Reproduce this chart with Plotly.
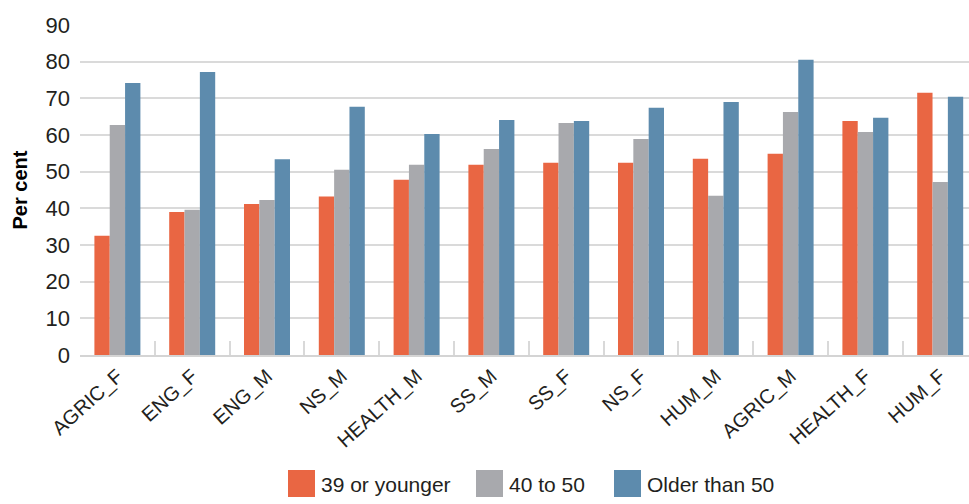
import plotly.graph_objects as go

# Categories (field of study and sex) and share per age group, in per cent
categories = ["AGRIC_F", "ENG_F", "ENG_M", "NS_M", "HEALTH_M", "SS_M",
              "SS_F", "NS_F", "HUM_M", "AGRIC_M", "HEALTH_F", "HUM_F"]
age_39_or_younger = [32.5, 39.0, 41.2, 43.2, 47.8, 51.9, 52.4, 52.4, 53.5, 54.9, 63.8, 71.5]
age_40_to_50 = [62.7, 39.6, 42.3, 50.5, 51.9, 56.2, 63.3, 58.9, 43.4, 66.3, 60.8, 47.2]
age_older_than_50 = [74.2, 77.2, 53.4, 67.7, 60.3, 64.1, 63.8, 67.4, 69.0, 80.5, 64.7, 70.4]

series_names = ["39 or younger", "40 to 50", "Older than 50"]
series_values = [age_39_or_younger, age_40_to_50, age_older_than_50]
colors = ["#E96643", "#A8A9AD", "#5D8BAD"]
y_ticks = [0, 10, 20, 30, 40, 50, 60, 70, 80, 90]

FONT = "Liberation Sans, Arial, sans-serif"
TEXT = "#231F20"
GRID = "#DADADA"

W, H = 969, 504
M_L, M_R, M_T, M_B = 80, 0, 25, 149
PLOT_W = W - M_L - M_R
PLOT_H = H - M_T - M_B
CAT_W = 74.8  # pixel width of one category slot

fig = go.Figure()
for name, vals, col in zip(series_names, series_values, colors):
    fig.add_trace(go.Bar(x=categories, y=vals, name=name,
                         marker=dict(color=col, line=dict(width=0)),
                         showlegend=False))


def px_x(px):
    return (px - M_L) / PLOT_W


def px_y(py):
    return (H - M_B - py) / PLOT_H


# Manual legend with large square swatches
legend_items = [(288, series_names[0]), (476, series_names[1]), (614, series_names[2])]
for (x0, label), col in zip(legend_items, colors):
    fig.add_shape(type="rect", xref="paper", yref="paper",
                  x0=px_x(x0), x1=px_x(x0 + 27), y0=px_y(497), y1=px_y(470),
                  fillcolor=col, line=dict(width=0))
    fig.add_annotation(xref="paper", yref="paper", x=px_x(x0 + 31), y=px_y(484),
                       text=label, showarrow=False, xanchor="left", yanchor="middle",
                       font=dict(family=FONT, size=21, color=TEXT))

fig.update_layout(
    width=W, height=H,
    margin=dict(l=M_L, r=M_R, t=M_T, b=M_B),
    paper_bgcolor="white", plot_bgcolor="white",
    barmode="group", bargap=0.385, bargroupgap=0,
    font=dict(family=FONT, color=TEXT),
    showlegend=False,
)
fig.update_xaxes(
    range=[-0.5, -0.5 + PLOT_W / CAT_W],
    tickangle=-42, tickfont=dict(family=FONT, size=20, color=TEXT),
    showgrid=False, showline=True, linecolor="#D4D4D4", linewidth=1.5,
    ticks="inside", tickson="boundaries", ticklen=14, tickcolor="#D9D9D9", tickwidth=1.5,
)
fig.update_yaxes(
    range=[0, 90], tickvals=y_ticks,
    tickfont=dict(family=FONT, size=22, color=TEXT),
    showgrid=True, gridcolor=GRID, gridwidth=1.5, zeroline=False,
    showline=False, ticks="", ticklabelstandoff=9,
    title=dict(text="<b>Per cent</b>", font=dict(family=FONT, size=20, color="#000"), standoff=12),
)

fig.write_html("out.html")
